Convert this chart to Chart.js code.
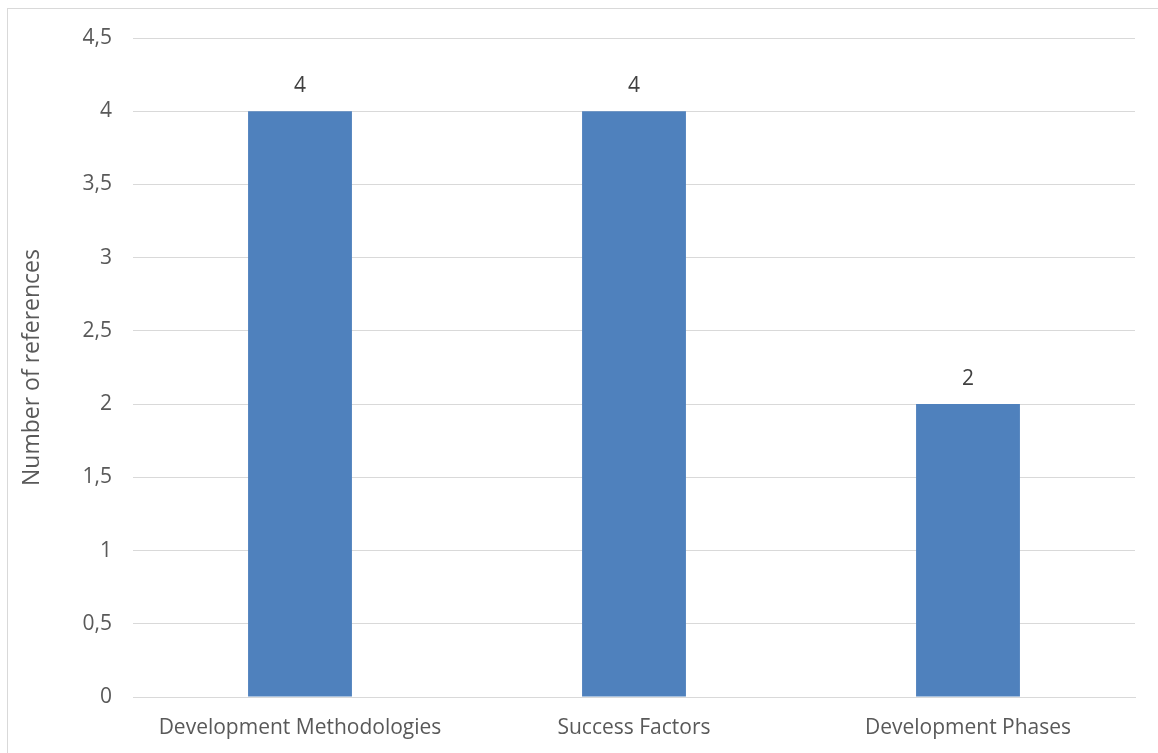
<!DOCTYPE html>
<html>
<head>
<meta charset="utf-8">
<title>Number of references</title>
<script src="https://cdn.jsdelivr.net/npm/chart.js@4/dist/chart.umd.min.js"></script>
<style>
  html, body { margin: 0; padding: 0; background: #fff; overflow: hidden; }
  #frame {
    position: absolute; left: 7px; top: 8px;
    width: 1200px; height: 800px;
    border: 1px solid #d9d9d9;
  }
  #chart { position: absolute; left: 0; top: 0; }
</style>
</head>
<body>
<div id="frame"></div>
<canvas id="chart" width="1158" height="753"></canvas>
<script>
// categories and counts
const categories = ['Development Methodologies', 'Success Factors', 'Development Phases'];
const references = [4, 4, 2];
const yTicks = [0, 0.5, 1, 1.5, 2, 2.5, 3, 3.5, 4, 4.5];

const FONT = '"Open Sans", Lato, sans-serif';

// writes the value above each bar
const valueLabels = {
    id: 'valueLabels',
    afterDatasetsDraw(chart) {
        const ctx = chart.ctx;
        const meta = chart.getDatasetMeta(0);
        ctx.save();
        ctx.fillStyle = '#404040';
        ctx.font = '21px ' + FONT;
        ctx.textAlign = 'center';
        ctx.textBaseline = 'alphabetic';
        meta.data.forEach(function(bar, i) {
            ctx.fillText(String(references[i]).replace('.', ','), bar.x, bar.y - 19);
        });
        ctx.restore();
    }
};

const ctx = document.getElementById('chart').getContext('2d');
new Chart(ctx, {
    type: 'bar',
    data: {
        labels: categories,
        datasets: [{
            data: references,
            backgroundColor: '#4f81bd',
            borderWidth: 0,
            categoryPercentage: 1,
            barPercentage: 0.311
        }]
    },
    options: {
        responsive: false,
        animation: false,
        layout: { padding: { left: 0, right: 23, top: 38, bottom: 0 } },
        plugins: {
            legend: { display: false },
            tooltip: { enabled: false }
        },
        scales: {
            x: {
                grid: { display: false, drawTicks: false },
                border: { display: true, color: '#d9d9d9' },
                ticks: {
                    color: '#595959',
                    font: { family: FONT, size: 21 },
                    padding: 18,
                    maxRotation: 0,
                    autoSkip: false
                },
                afterFit(scale) { scale.height = 56; }
            },
            y: {
                min: 0,
                max: 4.5,
                afterBuildTicks(scale) {
                    scale.ticks = yTicks.map(v => ({ value: v }));
                },
                grid: { color: '#d9d9d9', drawTicks: false },
                border: { display: false },
                ticks: {
                    color: '#595959',
                    font: { family: FONT, size: 21 },
                    padding: 21,
                    callback: v => String(v).replace('.', ',')
                },
                title: {
                    display: true,
                    text: 'Number of references',
                    color: '#595959',
                    font: { family: FONT, size: 23 },
                    padding: { top: 19, bottom: 0 }
                },
                afterFit(scale) { scale.width = 133; }
            }
        }
    },
    plugins: [valueLabels]
});
</script>
</body>
</html>
